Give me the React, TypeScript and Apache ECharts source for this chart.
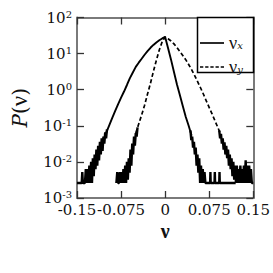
import React, { useEffect, useRef } from "react";
import * as echarts from "echarts";

// Tick labels
const xTickLabels = ["-0.15", "-0.075", "0", "0.075", "0.15"];
const yTickExponents = ["-3", "-2", "-1", "0", "1", "2"];

// v_x (solid): wide on the left, narrow on the right
const vxLeftV = [-0.105, -0.1, -0.095, -0.09, -0.085, -0.08, -0.075, -0.07, -0.065, -0.06, -0.055, -0.05, -0.045, -0.04, -0.035, -0.03, -0.025, -0.02, -0.015, -0.01, -0.005, 0];
const vxLeftP = [0.04, 0.066, 0.105, 0.166, 0.26, 0.4, 0.6, 0.89, 1.35, 2.1, 3.0, 4.3, 5.6, 7.2, 9.3, 11.7, 14.5, 17.4, 20.4, 23.4, 26.3, 29];
const vxRightV = [0.005, 0.01, 0.015, 0.02, 0.025, 0.03, 0.035, 0.04, 0.045];
const vxRightP = [14.1, 6.8, 3.1, 1.41, 0.71, 0.355, 0.178, 0.1, 0.054];

// v_y (dashed): narrow on the left, wide on the right
const vyLeftV = [-0.05, -0.045, -0.04, -0.035, -0.03, -0.025, -0.02, -0.015, -0.01, -0.005, 0];
const vyLeftP = [0.063, 0.112, 0.2, 0.37, 0.76, 1.5, 3.2, 6.5, 12.6, 21.4, 29];
const vyRightV = [0.005, 0.01, 0.015, 0.02, 0.025, 0.03, 0.035, 0.04, 0.045, 0.05, 0.055, 0.06, 0.065, 0.07, 0.075, 0.08, 0.085, 0.09, 0.095];
const vyRightP = [25.7, 22.4, 18.6, 14.8, 11.5, 8.9, 6.8, 5.0, 3.6, 2.5, 1.7, 1.15, 0.76, 0.49, 0.32, 0.21, 0.135, 0.087, 0.056];

// noisy tails (low-count bins)
const vxTailLeftV = [-0.15, -0.142, -0.141, -0.14, -0.1365, -0.135, -0.1335, -0.132, -0.1305, -0.129, -0.1275, -0.126, -0.1245, -0.123, -0.1215, -0.12, -0.1185, -0.117, -0.1155, -0.114, -0.1125, -0.111, -0.1095, -0.108, -0.1065, -0.105, -0.1035, -0.102, -0.1005, -0.099];
const vxTailLeftP = [0.0026, 0.0026, 0.0052, 0.0026, 0.0026, 0.0063, 0.0026, 0.0063, 0.0026, 0.0079, 0.0026, 0.01, 0.0026, 0.0126, 0.004, 0.016, 0.0063, 0.022, 0.0079, 0.028, 0.011, 0.036, 0.016, 0.045, 0.02, 0.05, 0.032, 0.066, 0.045, 0.08];

const vyTailLeftV = [-0.083, -0.0815, -0.08, -0.0785, -0.077, -0.0755, -0.074, -0.0725, -0.071, -0.0695, -0.068, -0.0665, -0.065, -0.0635, -0.062, -0.0605, -0.059, -0.0575, -0.056, -0.0545, -0.053, -0.0515, -0.05, -0.0485, -0.047];
const vyTailLeftP = [0.0026, 0.0052, 0.0026, 0.0026, 0.0052, 0.0026, 0.0052, 0.0026, 0.0063, 0.0026, 0.0079, 0.0026, 0.01, 0.0032, 0.0126, 0.005, 0.022, 0.0079, 0.032, 0.016, 0.05, 0.028, 0.063, 0.05, 0.09];

const vxTailRightV = [0.043, 0.0445, 0.046, 0.0475, 0.049, 0.0505, 0.052, 0.0535, 0.055, 0.0565, 0.058, 0.0595, 0.061, 0.0625, 0.064, 0.0655, 0.067, 0.0685, 0.07, 0.0765, 0.077, 0.0775, 0.084, 0.0845, 0.085, 0.092, 0.0925, 0.093, 0.12];
const vxTailRightP = [0.075, 0.04, 0.05, 0.025, 0.036, 0.016, 0.025, 0.0079, 0.016, 0.005, 0.0126, 0.0026, 0.0079, 0.0026, 0.0063, 0.0026, 0.0052, 0.0026, 0.0026, 0.0026, 0.0052, 0.0026, 0.0026, 0.0052, 0.0026, 0.0026, 0.0052, 0.0026, 0.0026];

const vyTailRightV = [0.092, 0.0935, 0.095, 0.0965, 0.098, 0.0995, 0.101, 0.1025, 0.104, 0.1055, 0.107, 0.1085, 0.11, 0.1115, 0.113, 0.1145, 0.116, 0.1175, 0.119, 0.1205, 0.122, 0.1235, 0.125, 0.1265, 0.128, 0.1295, 0.131, 0.1325, 0.134, 0.1355, 0.137, 0.1385, 0.14, 0.1415, 0.143, 0.1445, 0.146, 0.1475, 0.15];
const vyTailRightP = [0.075, 0.045, 0.06, 0.032, 0.045, 0.022, 0.035, 0.016, 0.028, 0.0126, 0.022, 0.0079, 0.016, 0.0063, 0.0126, 0.004, 0.01, 0.0032, 0.0079, 0.0026, 0.0079, 0.0026, 0.0063, 0.0026, 0.0079, 0.0026, 0.0063, 0.0026, 0.0079, 0.0026, 0.011, 0.0026, 0.0079, 0.0026, 0.0079, 0.0026, 0.0063, 0.0026, 0.0026];

const zip = (a: number[], b: number[]) => a.map((v, i) => [v, b[i]]);

const FONT = "DejaVu Serif";
const GREEK = "Liberation Serif";
const FRAME = "#7a7a7a";

export default function App() {
  const ref = useRef<HTMLDivElement>(null);
  useEffect(() => {
    if (!ref.current) return;
    const chart = echarts.init(ref.current, undefined, { renderer: "svg" });
    const tailSeries = (v: number[], p: number[]) => ({
      type: "line",
      name: "tail",
      data: zip(v, p),
      symbol: "none",
      silent: true,
      lineStyle: { color: "#000", width: 2.4, type: "solid" },
      z: 3,
    });
    const axisCommon = {
      axisLine: { show: true, onZero: false, lineStyle: { color: FRAME, width: 2 } },
      axisTick: { show: true, inside: true, length: 7, lineStyle: { color: "#333", width: 1.3 } },
      splitLine: { show: false },
    };
    chart.setOption({
      animation: false,
      backgroundColor: "#fff",
      grid: { left: 73.5, right: 17, top: 17.5, bottom: 75 },
      xAxis: [
        {
          type: "value",
          min: -0.15,
          max: 0.15,
          interval: 0.075,
          ...axisCommon,
          axisLabel: {
            show: true,
            margin: 5.5,
            fontFamily: FONT,
            fontSize: 15,
            lineHeight: 13,
            color: "#111",
            showMinLabel: true,
            showMaxLabel: true,
            formatter: (val: number) => xTickLabels[Math.round((val + 0.15) / 0.075)] ?? "",
          },
          name: "ν",
          nameLocation: "middle",
          nameGap: 23,
          nameMoveOverlap: false,
          nameTextStyle: { fontFamily: GREEK, fontSize: 20, lineHeight: 20, fontWeight: "bold", color: "#111" },
        },
        {
          type: "value",
          position: "top",
          min: -0.15,
          max: 0.15,
          interval: 0.075,
          ...axisCommon,
          axisLabel: { show: false },
        },
      ],
      yAxis: [
        {
          type: "log",
          logBase: 10,
          min: 0.001,
          max: 100,
          ...axisCommon,
          axisLabel: {
            show: true,
            margin: 5,
            color: "#111",
            formatter: (val: number) => {
              const i = Math.round(Math.log10(val)) + 3;
              return `{b|10}{s|${yTickExponents[i] ?? ""}}`;
            },
            rich: {
              b: { fontFamily: FONT, fontSize: 15, lineHeight: 17, color: "#111" },
              s: { fontFamily: FONT, fontSize: 10, lineHeight: 10, verticalAlign: "top", color: "#111" },
            },
          },
          name: "{i|P}{n|(}{g|ν}{n|)}",
          nameLocation: "middle",
          nameGap: 46,
          nameMoveOverlap: false,
          nameTextStyle: {
            rich: {
              i: { fontFamily: FONT, fontSize: 20, fontStyle: "italic", color: "#111" },
              n: { fontFamily: FONT, fontSize: 20, color: "#111" },
              g: { fontFamily: GREEK, fontSize: 23, color: "#111" },
            },
          },
        },
        {
          type: "log",
          logBase: 10,
          position: "right",
          min: 0.001,
          max: 100,
          ...axisCommon,
          axisLabel: { show: false },
        },
      ],
      legend: {
        data: [
          { name: "vx", icon: "path://M0,0h23v1.6h-23z" },
          { name: "vy", icon: "path://M0,0h3.5v1.6h-3.5zM5.5,0h3.5v1.6h-3.5zM11,0h3.5v1.6h-3.5zM16.5,0h3.5v1.6h-3.5zM22,0h3.5v1.6h-3.5z" },
        ],
        orient: "vertical",
        left: 200,
        top: 34,
        padding: 0,
        itemGap: 6,
        itemWidth: 24,
        itemHeight: 10,
        z: 10,
        itemStyle: { color: "#000", borderWidth: 0 },
        formatter: (name: string) => (name === "vx" ? "{n|ν}{s|x}" : "{n|ν}{s|y}"),
        textStyle: {
          lineHeight: 14,
          rich: {
            n: { fontFamily: GREEK, fontSize: 18, lineHeight: 14, color: "#111" },
            s: { fontFamily: FONT, fontSize: 10, fontStyle: "italic", lineHeight: 8, verticalAlign: "bottom", color: "#111" },
          },
        },
      },
      graphic: [
        {
          type: "rect",
          z: 5,
          shape: { x: 197.5, y: 17.5, width: 56, height: 55 },
          style: { fill: "#fff", stroke: "#000", lineWidth: 1.5 },
        },
      ],
      series: [
        {
          type: "line",
          name: "vx",
          data: zip([...vxLeftV, ...vxRightV], [...vxLeftP, ...vxRightP]),
          symbol: "none",
          lineStyle: { color: "#000", width: 1.9, type: "solid" },
          itemStyle: { color: "#000" },
          z: 4,
        },
        {
          type: "line",
          name: "vy",
          data: zip([...vyLeftV, ...vyRightV], [...vyLeftP, ...vyRightP]),
          symbol: "none",
          lineStyle: { color: "#000", width: 1.7, type: [4, 2.5] },
          itemStyle: { color: "#000" },
          z: 4,
        },
        tailSeries(vxTailLeftV, vxTailLeftP),
        tailSeries(vyTailLeftV, vyTailLeftP),
        tailSeries(vxTailRightV, vxTailRightP),
        tailSeries(vyTailRightV, vyTailRightP),
      ],
    });
    return () => chart.dispose();
  }, []);
  return <div ref={ref} style={{ position: "absolute", left: 0, top: 0, width: 273, height: 273 }} />;
}
